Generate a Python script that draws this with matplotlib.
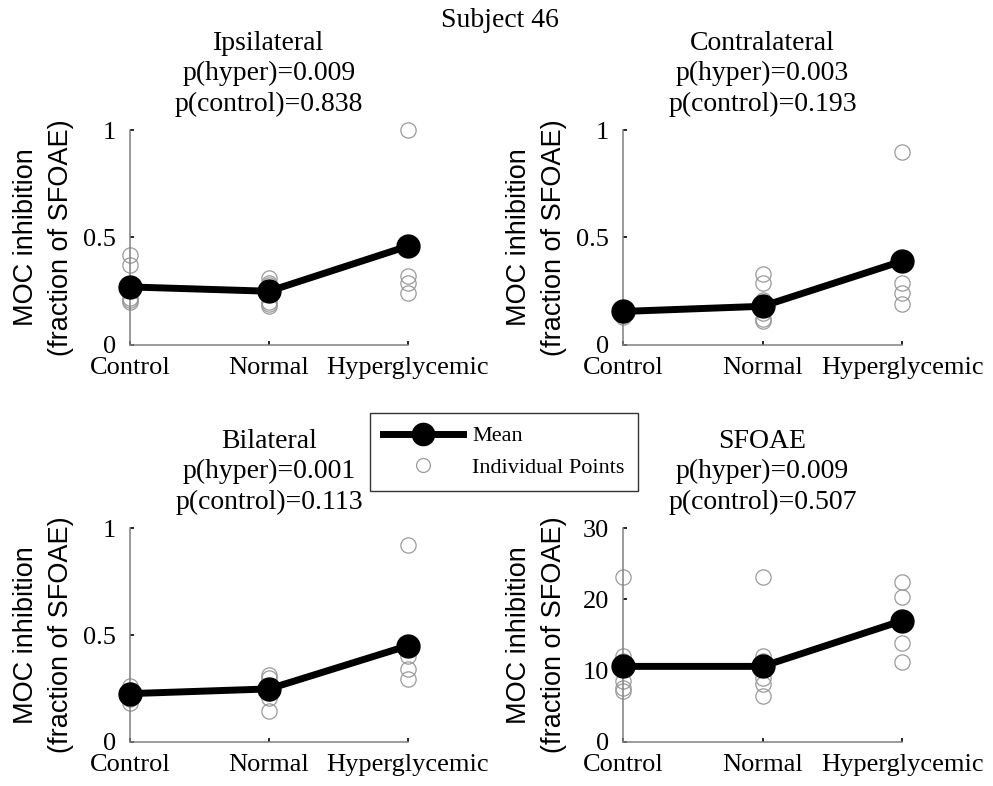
import matplotlib
matplotlib.use('Agg')
import matplotlib.pyplot as plt
from matplotlib.lines import Line2D

plt.rcParams['font.family'] = ['Liberation Serif', 'DejaVu Serif']

# group names on the x axis
groups = ['Control', 'Normal', 'Hyperglycemic']

# Ipsilateral
ipsi_control = [0.42, 0.37, 0.22, 0.21, 0.20]
ipsi_normal = [0.31, 0.29, 0.28, 0.20, 0.19, 0.18]
ipsi_hyper = [1.00, 0.32, 0.29, 0.24]
ipsi_mean = [0.27, 0.25, 0.46]

# Contralateral
contra_control = [0.17, 0.16, 0.14, 0.13]
contra_normal = [0.33, 0.29, 0.21, 0.15, 0.12, 0.11]
contra_hyper = [0.90, 0.29, 0.24, 0.19]
contra_mean = [0.156, 0.18, 0.39]

# Bilateral
bi_control = [0.26, 0.245, 0.21, 0.20, 0.18]
bi_normal = [0.315, 0.30, 0.23, 0.205, 0.145]
bi_hyper = [0.92, 0.40, 0.34, 0.295]
bi_mean = [0.226, 0.248, 0.45]

# SFOAE
sf_control = [23.2, 12.1, 11.4, 8.5, 7.6, 7.1]
sf_normal = [23.2, 12.1, 11.4, 9.0, 8.1, 6.5]
sf_hyper = [22.5, 20.3, 13.9, 11.2]
sf_mean = [10.6, 10.6, 17.0]

panels = [
    ('Ipsilateral', '0.009', '0.838', [ipsi_control, ipsi_normal, ipsi_hyper], ipsi_mean,
     [0, 1], [0, 0.5, 1], ['0', '0.5', '1']),
    ('Contralateral', '0.003', '0.193', [contra_control, contra_normal, contra_hyper], contra_mean,
     [0, 1], [0, 0.5, 1], ['0', '0.5', '1']),
    ('Bilateral', '0.001', '0.113', [bi_control, bi_normal, bi_hyper], bi_mean,
     [0, 1], [0, 0.5, 1], ['0', '0.5', '1']),
    ('SFOAE', '0.009', '0.507', [sf_control, sf_normal, sf_hyper], sf_mean,
     [0, 30], [0, 10, 20, 30], ['0', '10', '20', '30']),
]

# axes rectangles in figure fraction
positions = [
    [0.1309, 0.5611, 0.2800, 0.2735],
    [0.6274, 0.5611, 0.2810, 0.2735],
    [0.1309, 0.0560, 0.2800, 0.2722],
    [0.6274, 0.0560, 0.2810, 0.2722],
]

fig = plt.figure(figsize=(9.93, 7.86), dpi=100)
fig.patch.set_facecolor('white')

point_color = '#9a9a9a'
spine_color = '#808080'

for (name, ph, pc, pts, mean, ylim, yticks, yticklabels), pos in zip(panels, positions):
    ax = fig.add_axes(pos)
    xs = [1, 2, 3]
    # individual points
    for x, vals in zip(xs, pts):
        ax.plot([x] * len(vals), vals, linestyle='none', marker='o', markersize=11,
                markerfacecolor='none', markeredgecolor=point_color, markeredgewidth=0.9,
                clip_on=False)
    # mean line
    ax.plot(xs, mean, color='black', linewidth=5, marker='o', markersize=16.5,
            clip_on=False, zorder=5)

    ax.set_xlim(1, 3)
    ax.set_ylim(*ylim)
    ax.set_xticks(xs)
    ax.set_xticklabels(groups, fontsize=19)
    ax.set_yticks(yticks)
    ax.set_yticklabels(yticklabels, fontsize=19)
    ax.tick_params(direction='in', length=3, width=1.2, color='black')
    ax.tick_params(axis='x', pad=9)
    ax.tick_params(axis='y', pad=10)

    for side in ['top', 'right']:
        ax.spines[side].set_visible(False)
    for side in ['left', 'bottom']:
        ax.spines[side].set_color(spine_color)
        ax.spines[side].set_linewidth(1.1)

    ax.set_title(name + '\np(hyper)=' + ph + '\np(control)=' + pc,
                 fontsize=20, pad=14, linespacing=1.28)
    ax.set_ylabel('MOC inhibition\n(fraction of SFOAE)', fontsize=19.5,
                  family=['Liberation Sans', 'DejaVu Sans'], linespacing=1.45)
    ax.yaxis.set_label_coords(-0.2, 0.5)

fig.text(0.5035, 1 - 27 / 786, 'Subject 46', fontsize=20, ha='center', va='baseline')

handles = [
    Line2D([], [], color='black', linewidth=5, marker='o', markersize=16),
    Line2D([], [], linestyle='none', marker='o', markersize=10, markerfacecolor='none',
           markeredgecolor=point_color, markeredgewidth=0.9),
]
leg = fig.legend(handles, ['Mean', 'Individual Points'], loc='center',
                 bbox_to_anchor=(0.5076, 0.4249), prop={'size': 16},
                 frameon=True, fancybox=False, handlelength=3.6, handletextpad=0.4,
                 borderpad=0.6, labelspacing=0.5)
leg.get_frame().set_edgecolor('black')
leg.get_frame().set_linewidth(1.0)

fig.savefig('out.png', dpi=100)
